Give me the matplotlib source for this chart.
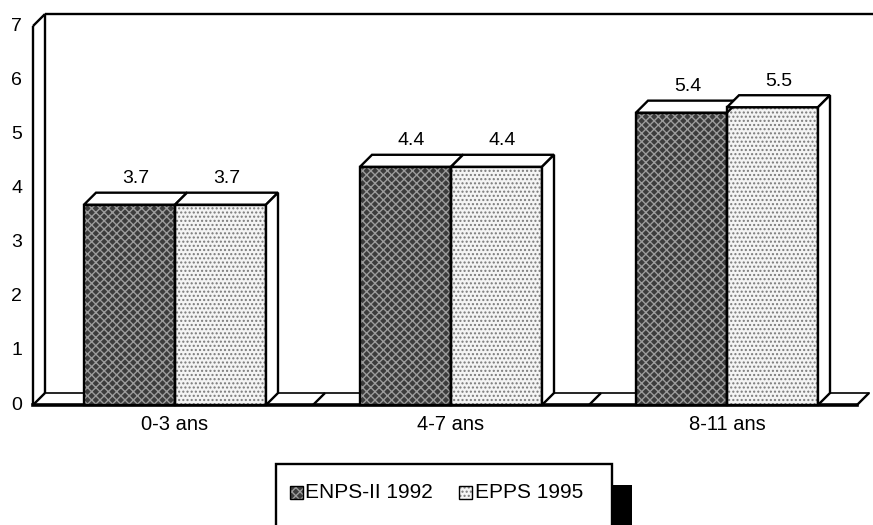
import matplotlib
matplotlib.use('Agg')
import matplotlib.pyplot as plt
from matplotlib.patches import Polygon, Rectangle

categories = ['0-3 ans', '4-7 ans', '8-11 ans']
series_names = ['ENPS-II 1992', 'EPPS 1995']
enps = [3.7, 4.4, 5.4]
epps = [3.7, 4.4, 5.5]
yticks = [0, 1, 2, 3, 4, 5, 6, 7]
ymax = 7

plt.rcParams['font.family'] = ['Liberation Sans', 'DejaVu Sans']

W, H = 873, 525
fig = plt.figure(figsize=(W / 100, H / 100), dpi=100)
ax = fig.add_axes([0, 0, 1, 1])
PXX = 276.0   # pixels per category unit
PXY = 54.14   # pixels per value unit
X0PX, Y0PX = 175.0, 405.0
ax.set_xlim(-X0PX / PXX, (W - X0PX) / PXX)
ax.set_ylim(-(H - Y0PX) / PXY, Y0PX / PXY)
ax.axis('off')


def px(xp, yp):
    return (xp - X0PX) / PXX, (Y0PX - yp) / PXY


DX = 12 / PXX
DY = 12 / PXY
xL = px(33, 0)[0]
xR = px(857, 0)[0]
xEnd = px(873, 0)[0]
LW = 1.7

styles = [
    dict(face='#3c3c3c', hatch='xxxx', hcol='#9c9c9c'),
    dict(face='#f4f4f4', hatch='....', hcol='#7a7a7a'),
]

# walls and floor
k = dict(color='black', lw=LW, zorder=1, solid_capstyle='butt')
ax.plot([xL, xL], [0, ymax], **k)
ax.plot([xL, xL + DX], [ymax, ymax + DY], **k)
ax.plot([xL + DX, xL + DX], [DY, ymax + DY], **k)
ax.plot([xL + DX, xEnd], [ymax + DY, ymax + DY], **k)
ax.plot([xL + DX, xR + DX], [DY, DY], color='black', lw=1.2, zorder=1)
ax.plot([xL, xR], [0, 0], color='black', lw=2.6, zorder=1)
for xb in [xL, 0.5, 1.5, xR]:
    ax.plot([xb, xb + DX], [0, DY], **k)

# bars
bw = 91 / PXX
x = list(range(len(categories)))
for s, vals in enumerate([enps, epps]):
    st = styles[s]
    pos = [xi + (s - 0.5) * bw for xi in x]
    ax.bar(pos, vals, width=bw, color=st['face'], edgecolor=st['hcol'],
           hatch=st['hatch'], linewidth=0, zorder=3)
    ax.bar(pos, vals, width=bw, fill=False, edgecolor='black',
           linewidth=LW, zorder=4)
    for p, v in zip(pos, vals):
        x0, x1 = p - bw / 2, p + bw / 2
        top = Polygon([(x0, v), (x1, v), (x1 + DX, v + DY), (x0 + DX, v + DY)],
                      closed=True, facecolor='white', edgecolor='black',
                      lw=LW, zorder=4 + s)
        ax.add_patch(top)
        side = Polygon([(x1, 0), (x1 + DX, DY), (x1 + DX, v + DY), (x1, v)],
                       closed=True, facecolor='white', edgecolor='black',
                       lw=LW, zorder=3 + s * 2)
        ax.add_patch(side)
        ax.text(p + DX / 2, v + DY + 0.1, f'{v:.1f}', ha='center', va='bottom',
                fontsize=14, zorder=6)

# y tick labels
for t in yticks:
    ax.text(px(22, 0)[0], t, str(t), ha='right', va='center', fontsize=14)

# category labels
for xi, c in zip(x, categories):
    ax.text(xi, px(0, 425)[1], c, ha='center', va='center', fontsize=14.5)

# legend
bx0, by0 = px(276, 535)
bx1, by1 = px(612, 464)
ax.add_patch(Rectangle(px(612, 535), px(632, 0)[0] - px(612, 0)[0],
                       px(0, 485)[1] - px(0, 535)[1], facecolor='black',
                       edgecolor='none', zorder=5, clip_on=False))
ax.add_patch(Rectangle((bx0, by0), bx1 - bx0, by1 - by0, facecolor='white',
                       edgecolor='black', lw=LW, zorder=6, clip_on=False))
leg = [(290, 305), (459, 475)]
for s, (sx, tx) in enumerate(leg):
    st = styles[s]
    sx0, sy0 = px(sx, 499)
    sx1, sy1 = px(sx + 13, 486)
    ax.add_patch(Rectangle((sx0, sy0), sx1 - sx0, sy1 - sy0, facecolor=st['face'],
                           edgecolor=st['hcol'], hatch=st['hatch'], lw=0, zorder=7))
    ax.add_patch(Rectangle((sx0, sy0), sx1 - sx0, sy1 - sy0, fill=False,
                           edgecolor='black', lw=1.0, zorder=8))
    ax.text(px(tx, 0)[0], px(0, 493)[1], series_names[s], ha='left', va='center',
            fontsize=15, zorder=8)

fig.savefig('out.png', dpi=100)
